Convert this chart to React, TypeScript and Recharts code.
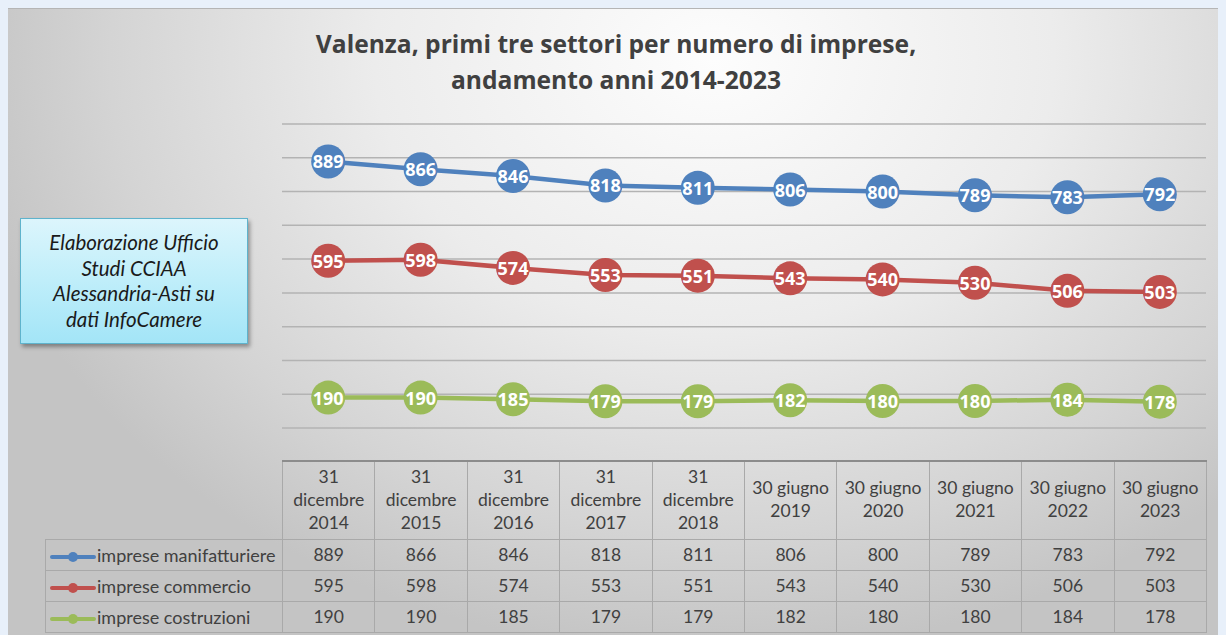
import { LineChart, Line, XAxis, YAxis, CartesianGrid, LabelList } from 'recharts';

const categories = [
  '31 dicembre 2014',
  '31 dicembre 2015',
  '31 dicembre 2016',
  '31 dicembre 2017',
  '31 dicembre 2018',
  '30 giugno 2019',
  '30 giugno 2020',
  '30 giugno 2021',
  '30 giugno 2022',
  '30 giugno 2023',
];
// header lines as printed in the data table
const headerLines = [
  ['31', 'dicembre', '2014'],
  ['31', 'dicembre', '2015'],
  ['31', 'dicembre', '2016'],
  ['31', 'dicembre', '2017'],
  ['31', 'dicembre', '2018'],
  ['30 giugno', '2019'],
  ['30 giugno', '2020'],
  ['30 giugno', '2021'],
  ['30 giugno', '2022'],
  ['30 giugno', '2023'],
];
const manifatturiere = [889, 866, 846, 818, 811, 806, 800, 789, 783, 792];
const commercio = [595, 598, 574, 553, 551, 543, 540, 530, 506, 503];
const costruzioni = [190, 190, 185, 179, 179, 182, 180, 180, 184, 178];
const yTicks = [100, 200, 300, 400, 500, 600, 700, 800, 900, 1000];

const series = [
  { key: 'manif', name: 'imprese manifatturiere', color: '#4F81BD', values: manifatturiere },
  { key: 'comm', name: 'imprese commercio', color: '#C0504D', values: commercio },
  { key: 'costr', name: 'imprese costruzioni', color: '#9BBB59', values: costruzioni },
];

const data = categories.map((c, i) => ({
  name: c,
  manif: manifatturiere[i],
  comm: commercio[i],
  costr: costruzioni[i],
}));

const W = 1218;
const H = 627;
const PLOT_LEFT = 274;
const PLOT_RIGHT = 20;
const COL_W = (W - PLOT_LEFT - PLOT_RIGHT) / categories.length;

const renderLabel = (props: any) => {
  const { x, y, value } = props;
  return (
    <text
      x={x}
      y={y}
      textAnchor="middle"
      dominantBaseline="central"
      fill="#ffffff"
      fontFamily="'Open Sans', sans-serif"
      fontWeight={700}
      fontSize={18}
    >
      {value}
    </text>
  );
};

const cellBorder = '1px solid #a9a9a9';
const tableFont = "Lato, 'Noto Sans', sans-serif";

function LegendKey({ color }: { color: string }) {
  return (
    <svg width={46} height={12} style={{ verticalAlign: 'middle', marginRight: 1 }}>
      <line x1={2} y1={6} x2={44} y2={6} stroke={color} strokeWidth={4} strokeLinecap="round" />
      <circle cx={23} cy={6} r={5} fill={color} />
    </svg>
  );
}

export default function App() {
  return (
    <>
      <style>{`body { background: #e8f0fa; overflow: hidden; }`}</style>
      <div
        style={{
          position: 'relative',
          width: W,
          height: H,
          borderTop: '1px solid #b5b5b5',
          background:
            'radial-gradient(ellipse 62% 95% at 58% 8%, #fdfdfd 0%, #ececec 45%, #d4d4d4 80%, #c4c4c4 100%)',
          overflow: 'hidden',
        }}
      >
        <div
          style={{
            position: 'absolute',
            left: 0,
            top: 17,
            width: W - 2,
            textAlign: 'center',
            fontFamily: "'Open Sans', sans-serif",
            fontWeight: 700,
            fontSize: 24.6,
            lineHeight: '36px',
            color: '#404040',
          }}
        >
          Valenza, primi tre settori per numero di imprese,
          <br />
          andamento anni 2014-2023
        </div>

        <div
          style={{
            position: 'absolute',
            left: 12,
            top: 209,
            width: 228,
            height: 126,
            boxSizing: 'border-box',
            border: '1px solid #5fb3cc',
            background: 'linear-gradient(180deg, #dcf5fc 0%, #bfeefa 50%, #a3e5f7 100%)',
            boxShadow: '2px 3px 4px rgba(0,0,0,0.35)',
            display: 'flex',
            alignItems: 'center',
            justifyContent: 'center',
            textAlign: 'center',
            fontFamily: tableFont,
            fontStyle: 'italic',
            fontSize: 20.5,
            lineHeight: '25.5px',
            color: '#1a1a1a',
          }}
        >
          <div>
            Elaborazione Ufficio
            <br />
            Studi CCIAA
            <br />
            Alessandria-Asti su
            <br />
            dati InfoCamere
          </div>
        </div>

        <LineChart
          width={W}
          height={H}
          data={data}
          margin={{ top: 115, right: PLOT_RIGHT, bottom: 208, left: PLOT_LEFT }}
          style={{ position: 'absolute', left: 0, top: 0 }}
        >
          <CartesianGrid vertical={false} stroke="#b3b3b3" strokeWidth={1.5} />
          <XAxis dataKey="name" hide padding={{ left: COL_W / 2, right: COL_W / 2 }} />
          <YAxis hide domain={[100, 1000]} ticks={yTicks} />
          {series.map((s) => (
            <Line
              key={s.key}
              dataKey={s.key}
              name={s.name}
              stroke={s.color}
              strokeWidth={4.5}
              dot={{ r: 17, fill: s.color, stroke: s.color, strokeWidth: 0 }}
              activeDot={false}
              isAnimationActive={false}
            >
              <LabelList dataKey={s.key} content={renderLabel} />
            </Line>
          ))}
        </LineChart>

        <table
          style={{
            position: 'absolute',
            left: 37,
            top: 451,
            borderCollapse: 'collapse',
            fontFamily: tableFont,
            fontSize: 17.5,
            color: '#404040',
            tableLayout: 'fixed',
          }}
        >
          <colgroup>
            <col style={{ width: PLOT_LEFT - 37 }} />
            {categories.map((c) => (
              <col key={c} style={{ width: COL_W }} />
            ))}
          </colgroup>
          <tbody>
            <tr style={{ height: 78 }}>
              <td style={{ border: 'none' }} />
              {headerLines.map((lines, i) => (
                <td
                  key={i}
                  style={{
                    border: cellBorder,
                    borderTop: '2px solid #8c8c8c',
                    textAlign: 'center',
                    lineHeight: '23px',
                    padding: '0 0 2px 0',
                  }}
                >
                  {lines.map((l) => (
                    <div key={l}>{l}</div>
                  ))}
                </td>
              ))}
            </tr>
            {series.map((s) => (
              <tr key={s.key} style={{ height: 31 }}>
                <td
                  style={{
                    border: cellBorder,
                    padding: '0 0 0 4px',
                    whiteSpace: 'nowrap',
                    fontSize: 18,
                    overflow: 'hidden',
                  }}
                >
                  <LegendKey color={s.color} />
                  {s.name}
                </td>
                {s.values.map((v, i) => (
                  <td key={i} style={{ border: cellBorder, textAlign: 'center', padding: 0 }}>
                    {v}
                  </td>
                ))}
              </tr>
            ))}
          </tbody>
        </table>
      </div>
    </>
  );
}
